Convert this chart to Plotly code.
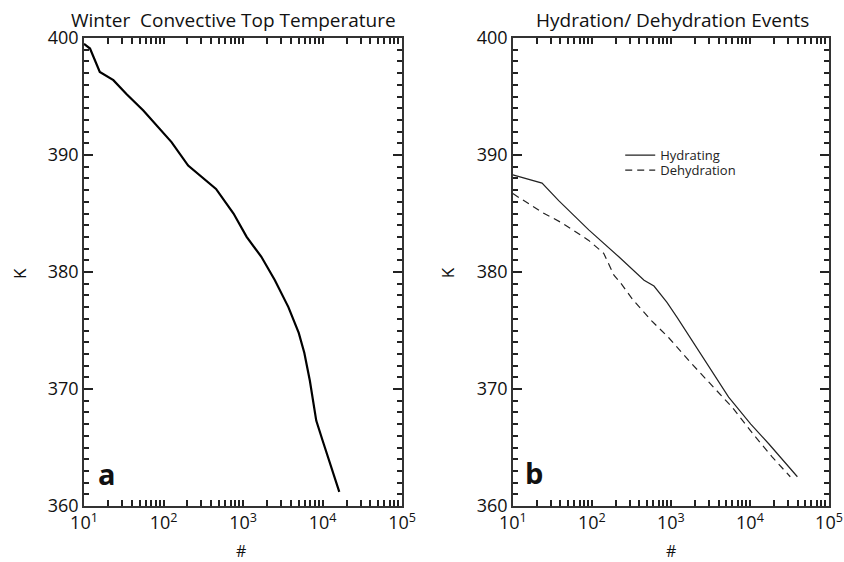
import plotly.graph_objects as go

# Panel a: winter convective top temperature
a_count = [10, 11.9, 15.8, 23.4, 34.4, 55.7, 126, 204, 457, 759, 1109, 1698,
           2512, 3715, 5012, 5888, 6918, 8318, 10000, 16218]
a_temp = [399.5, 399.1, 397.1, 396.4, 395.2, 393.8, 391.1, 389.1, 387.1, 385.0,
          383.0, 381.3, 379.3, 377.0, 374.8, 373.1, 370.7, 367.3, 365.6, 361.2]

# Panel b: hydration / dehydration events
hyd_count = [10, 23.4, 38.0, 91.2, 219, 457, 610, 891, 1202, 2042, 2754, 5370,
             10233, 17378, 39811]
hyd_temp = [388.3, 387.6, 386.1, 383.6, 381.3, 379.3, 378.8, 377.4, 376.1,
            373.7, 372.3, 369.3, 367.0, 365.3, 362.5]
deh_count = [10, 23.4, 41.7, 91.2, 141, 191, 229, 324, 575, 933, 1698, 2754,
             6026, 11749, 19055, 32359]
deh_temp = [386.7, 385.1, 384.2, 382.7, 381.6, 379.7, 379.1, 377.7, 375.8,
            374.4, 372.4, 370.9, 368.4, 365.9, 364.2, 362.5]

x_decades = [10, 100, 1000, 10000, 100000]
x_decade_text = ["10<sup>1</sup>", "10<sup>2</sup>", "10<sup>3</sup>",
                 "10<sup>4</sup>", "10<sup>5</sup>"]
# every tick position on the log axis; only the decades carry a label
x_tickvals = []
x_ticktext = []
for dec, lab in zip(x_decades, x_decade_text):
    x_tickvals.append(dec)
    x_ticktext.append(lab)
    if dec < 100000:
        for m in range(2, 10):
            x_tickvals.append(m * dec)
            x_ticktext.append("")
y_tickvals = [360, 370, 380, 390, 400]
y_minor_vals = [v for v in range(361, 400) if v % 10]

FONT = "Open Sans"
W, H = 844, 562
L, R, T, B = 84, 828.7, 37.5, 506.5   # plot-area box in pixels


def px(x):
    return (x - L) / (R - L)


def py(y):
    return (B - y) / (B - T)


fig = go.Figure()
fig.add_trace(go.Scatter(x=a_count, y=a_temp, mode="lines", xaxis="x", yaxis="y",
                         line=dict(color="black", width=2.2), showlegend=False))
fig.add_trace(go.Scatter(x=hyd_count, y=hyd_temp, mode="lines", xaxis="x2", yaxis="y2",
                         name="Hydrating", legend="legend",
                         line=dict(color="#222", width=1.2)))
fig.add_trace(go.Scatter(x=deh_count, y=deh_temp, mode="lines", xaxis="x2", yaxis="y2",
                         name="Dehydration", legend="legend2",
                         line=dict(color="#222", width=1.2, dash="7px,5px")))


def xaxis(domain, anchor):
    return dict(domain=domain, anchor=anchor, type="log", range=[1, 5],
                tickvals=x_tickvals, ticktext=x_ticktext,
                automargin=False,
                ticks="inside", ticklen=6, tickwidth=1.5, tickcolor="#222",
                showline=True, linecolor="#333", linewidth=1.5, mirror="ticks",
                showgrid=False, zeroline=False,
                tickfont=dict(family=FONT, size=18, color="#111"))


def yaxis(domain, anchor):
    return dict(domain=domain, anchor=anchor, range=[360, 400],
                tickmode="array", tickvals=y_tickvals, automargin=False,
                ticks="inside", ticklen=9, tickwidth=1.5, tickcolor="#222",
                minor=dict(tickmode="array", tickvals=y_minor_vals, ticks="inside",
                           ticklen=5, tickwidth=1.5, tickcolor="#222", showgrid=False),
                showline=True, linecolor="#333", linewidth=1.5, mirror="ticks",
                showgrid=False, zeroline=False,
                tickfont=dict(family=FONT, size=18, color="#111"))


legend_style = dict(xanchor="left", yanchor="middle", bgcolor="rgba(0,0,0,0)",
                    font=dict(family=FONT, size=13, color="#222"),
                    tracegroupgap=0, itemwidth=30)

fig.update_layout(
    width=W, height=H,
    margin=dict(l=L, r=W - R, t=T, b=H - B, pad=0),
    paper_bgcolor="white", plot_bgcolor="white",
    xaxis=xaxis([0, px(402)], "y"),
    yaxis=yaxis([0, 1], "x"),
    xaxis2=xaxis([px(512.7), 1], "y2"),
    yaxis2=yaxis([0, 1], "x2"),
    legend=dict(x=px(620), y=py(155), **legend_style),
    legend2=dict(x=px(620), y=py(170), **legend_style),
    showlegend=True,
)

ann = [
    dict(text="Winter  Convective Top Temperature", x=233, y=19, size=19),
    dict(text="Hydration/ Dehydration Events", x=672, y=19, size=19),
    dict(text="#", x=241, y=552, size=16),
    dict(text="#", x=671, y=552, size=16),
    dict(text="<b>a</b>", x=107, y=474, size=29),
    dict(text="<b>b</b>", x=534, y=473, size=29),
]
annotations = [dict(text=a["text"], x=px(a["x"]), y=py(a["y"]), xref="paper",
                    yref="paper", showarrow=False, xanchor="center", yanchor="middle",
                    font=dict(family=FONT, size=a["size"], color="#111"))
               for a in ann]
for xk in (20, 448):
    annotations.append(dict(text="K", x=px(xk), y=py(273), xref="paper", yref="paper",
                            showarrow=False, textangle=-90, xanchor="center",
                            yanchor="middle",
                            font=dict(family=FONT, size=17, color="#111")))
fig.update_layout(annotations=annotations)

fig.write_html("out.html")
